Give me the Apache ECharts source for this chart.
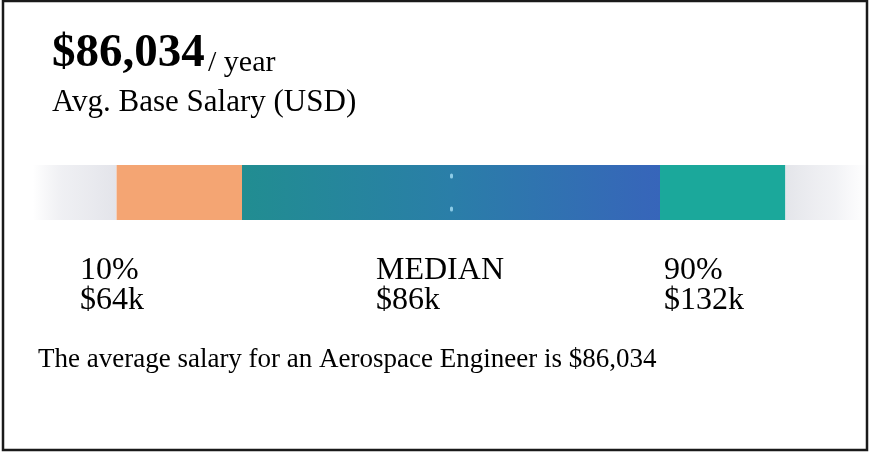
<!DOCTYPE html>
<html>
<head>
<meta charset="utf-8">
<script src="https://cdn.jsdelivr.net/npm/echarts@6/dist/echarts.min.js"></script>
<style>
  html, body { margin: 0; padding: 0; background: #fff; }
  #chart { width: 869px; height: 452px; }
</style>
</head>
<body>
<div id="chart"></div>
<script>
// Salary summary
const avgSalary = '$86,034';
const avgUnit = '/ year';
const avgCaption = 'Avg. Base Salary (USD)';
const summaryText = 'The average salary for an Aerospace Engineer is $86,034';

// Percentile labels and their values (thousands of USD)
const percentileNames = ['10%', 'MEDIAN', '90%'];
const percentileValues = [64, 86, 132];

// Range bar bands, as shares of the bar's length (percent)
const bandNames = ['below', 'low', 'middle', 'high', 'above'];
const bandShares = [10, 15, 50, 15, 10];

const FONT = '"Liberation Serif", "Times New Roman", serif';

function hGrad(stops) {
  return new echarts.graphic.LinearGradient(0, 0, 1, 0,
    stops.map(([offset, color]) => ({ offset, color })));
}

const bandColors = [
  hGrad([[0, 'rgba(228,229,234,0)'], [0.35, 'rgba(232,233,238,0.7)'], [1, '#e3e4ea']]),
  '#f4a573',
  hGrad([[0, '#218d91'], [0.5, '#2a7ea8'], [1, '#3765ba']]),
  '#1ba89b',
  hGrad([[0, '#e4e5ea'], [0.6, 'rgba(236,237,241,0.7)'], [1, 'rgba(240,240,244,0)']])
];

// Median sits in the middle of the central band
const medianPos = bandShares[0] + bandShares[1] + bandShares[2] / 2;

const series = bandNames.map((name, i) => {
  const s = {
    name,
    type: 'bar',
    stack: 'range',
    barWidth: '100%',
    silent: true,
    data: [bandShares[i]],
    itemStyle: { color: bandColors[i] }
  };
  if (name === 'middle') {
    s.markLine = {
      symbol: 'none',
      silent: true,
      label: { show: false },
      lineStyle: { color: '#8ccbe6', width: 3, type: [2, 31], dashOffset: 23, cap: 'round' },
      data: [{ xAxis: medianPos }]
    };
  }
  return s;
});

const labelLefts = [80, 376, 664];
const labelGraphics = [];
percentileNames.forEach((n, i) => {
  labelGraphics.push({
    type: 'text', left: labelLefts[i], top: 255,
    style: { text: n, font: '32px ' + FONT, fill: '#000' }
  });
  labelGraphics.push({
    type: 'text', left: labelLefts[i], top: 285,
    style: { text: '$' + percentileValues[i] + 'k', font: '32px ' + FONT, fill: '#000' }
  });
});

const chart = echarts.init(document.getElementById('chart'), null, { renderer: 'canvas' });
chart.setOption({
  backgroundColor: '#ffffff',
  animation: false,
  grid: { left: 33, width: 840, top: 165, height: 55 },
  xAxis: { type: 'value', min: 0, max: 100, show: false },
  yAxis: { type: 'category', data: ['salary'], show: false },
  series,
  graphic: [
    {
      type: 'text', left: 52, top: 30,
      style: { text: avgSalary, font: 'bold 47px ' + FONT, fill: '#000' }
    },
    {
      type: 'text', left: 208, top: 48,
      style: { text: avgUnit, font: '30px ' + FONT, fill: '#000' }
    },
    {
      type: 'text', left: 52, top: 87,
      style: { text: avgCaption, font: '31px ' + FONT, fill: '#000' }
    },
    ...labelGraphics,
    {
      type: 'text', left: 38, top: 346,
      style: { text: summaryText, font: '27px ' + FONT, fill: '#000' }
    },
    {
      type: 'rect', z: 100,
      shape: { x: 3, y: 1, width: 864, height: 449 },
      style: { fill: 'none', stroke: '#1a1a1a', lineWidth: 2.5 }
    }
  ]
});
</script>
</body>
</html>
